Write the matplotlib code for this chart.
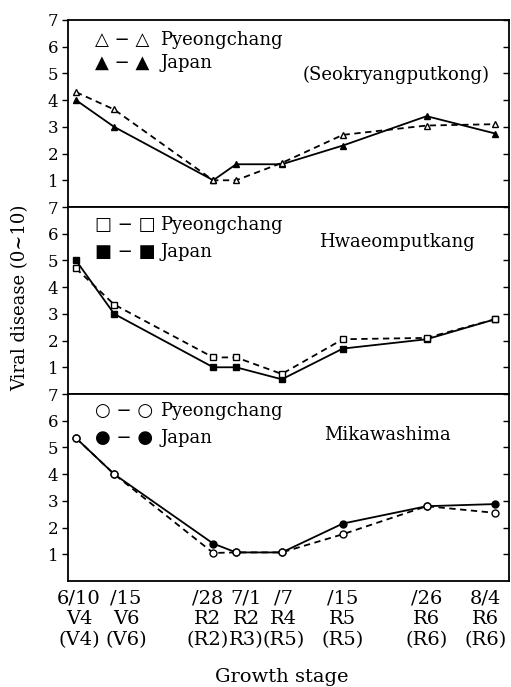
import matplotlib
matplotlib.use("Agg")
import matplotlib.pyplot as plt
import matplotlib.transforms as mtransforms

# ---- data ----
days = [0, 5, 18, 21, 27, 35, 46, 55]   # days after 6/10
tick_labels = ["6/10\nV4\n(V4)", "/15\nV6\n(V6)", "/28\nR2\n(R2)", "7/1\nR2\nR3)",
               "/7\nR4\n(R5)", "/15\nR5\n(R5)", "/26\nR6\n(R6)", "8/4\nR6\n(R6)"]
yticks = [1, 2, 3, 4, 5, 6, 7]

seok_pyeong = [4.3, 3.65, 1.0, 1.0, 1.65, 2.7, 3.05, 3.1]
seok_japan = [4.0, 3.0, 1.0, 1.6, 1.6, 2.3, 3.4, 2.75]
hwa_pyeong = [4.7, 3.35, 1.37, 1.37, 0.75, 2.05, 2.1, 2.8]
hwa_japan = [5.0, 3.0, 1.0, 1.0, 0.55, 1.7, 2.05, 2.8]
mik_pyeong = [5.35, 4.0, 1.05, 1.07, 1.07, 1.75, 2.8, 2.55]
mik_japan = [5.35, 4.0, 1.4, 1.07, 1.07, 2.15, 2.8, 2.88]

panels = [
    ("(Seokryangputkong)", "^", "△ − △", "▲ − ▲", seok_pyeong, seok_japan),
    ("Hwaeomputkang", "s", "□ − □", "■ − ■", hwa_pyeong, hwa_japan),
    ("Mikawashima", "o", "○ − ○", "● − ●", mik_pyeong, mik_japan),
]

SERIF = "DejaVu Serif"
plt.rcParams["font.family"] = [SERIF, "DejaVu Sans"]

W, H = 511, 687
fig = plt.figure(figsize=(W / 100, H / 100), dpi=100)

left_px, right_px = 68, 509
top_px, bot_px = 20, 581
ph = (bot_px - top_px) / 3

title_pos = [(0.957, 0.706, "right"), (0.746, 0.813, "center"), (0.724, 0.78, "center")]
row1_y = [0.893, 0.904, 0.910]
row2_y = [0.770, 0.760, 0.765]

axes = []
for i, (title, mk, sym_p, sym_j, yp, yj) in enumerate(panels):
    top = top_px + i * ph
    ax = fig.add_axes([left_px / W, 1 - (top + ph) / H, (right_px - left_px) / W, ph / H])
    axes.append(ax)
    ax.plot(days, yp, linestyle=(0, (3.5, 2.5)), color="black", lw=1.3,
            marker=mk, markersize=5, markerfacecolor="white", markeredgecolor="black",
            markeredgewidth=1.0, zorder=3)
    ax.plot(days, yj, linestyle="-", color="black", lw=1.3,
            marker=mk, markersize=5, markerfacecolor="black", markeredgecolor="black",
            zorder=2)
    ax.set_xlim(-1.05, 56.8)
    ax.set_ylim(0, 7)
    ax.set_yticks(yticks)
    ax.set_yticklabels([str(v) for v in yticks], fontsize=12)
    ax.tick_params(axis="y", direction="out", length=4, width=1, pad=3)
    for s in ax.spines.values():
        s.set_linewidth(1.3)
    # inward ticks on the right edge
    axr = ax.twinx()
    axr.set_ylim(0, 7)
    axr.set_yticks(yticks)
    axr.tick_params(axis="y", direction="in", length=4, width=1, labelright=False)
    for s in axr.spines.values():
        s.set_visible(False)
    # legend texts
    ax.text(0.061, row1_y[i], sym_p, transform=ax.transAxes, fontsize=13,
            family="DejaVu Sans", va="center", ha="left")
    ax.text(0.209, row1_y[i], "Pyeongchang", transform=ax.transAxes, fontsize=13,
            va="center", ha="left")
    ax.text(0.061, row2_y[i], sym_j, transform=ax.transAxes, fontsize=13,
            family="DejaVu Sans", va="center", ha="left")
    ax.text(0.209, row2_y[i], "Japan", transform=ax.transAxes, fontsize=13,
            va="center", ha="left")
    tx, ty, tha = title_pos[i]
    ax.text(tx, ty, title, transform=ax.transAxes, fontsize=13, va="center", ha=tha)
    if i < 2:
        ax.set_xticks(days)
        ax.tick_params(axis="x", bottom=False, labelbottom=False)

ax = axes[-1]
ax.set_xticks(days)
ax.set_xticklabels(tick_labels, fontsize=14, linespacing=1.2)
ax.tick_params(axis="x", length=0, pad=6)
offsets = [3, 12, -6, 10, 2, 0, 0, -10]
for lab, dx in zip(ax.get_xticklabels(), offsets):
    lab.set_transform(lab.get_transform() + mtransforms.ScaledTranslation(dx / 100, 0, fig.dpi_scale_trans))

fig.text(282 / W, 1 - 677 / H, "Growth stage", fontsize=14, ha="center", va="center")
fig.text(20 / W, 1 - 298 / H, "Viral disease (0~10)", fontsize=13, rotation=90,
         ha="center", va="center")

fig.savefig("out.png", dpi=100)
